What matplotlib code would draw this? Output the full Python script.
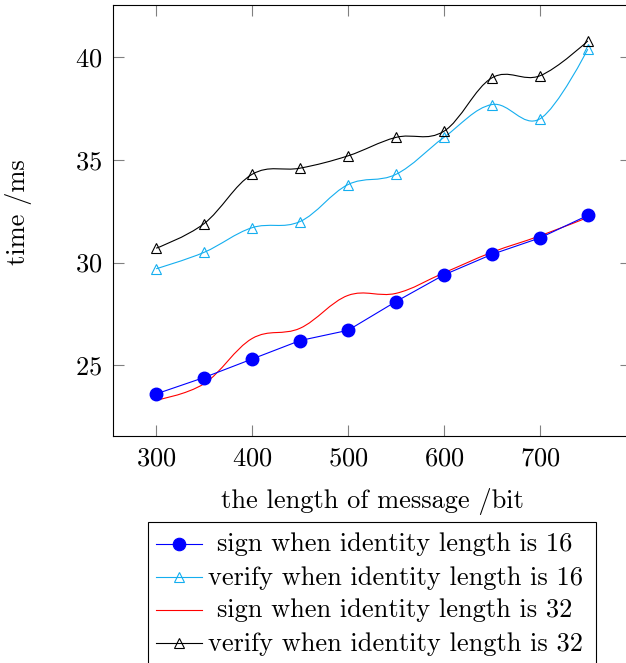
import numpy as np
import matplotlib.pyplot as plt
from matplotlib.path import Path
from matplotlib.patches import PathPatch, Rectangle
from matplotlib.lines import Line2D

plt.rcParams['font.family'] = 'cmr10'
plt.rcParams['mathtext.fontset'] = 'cm'
plt.rcParams['axes.formatter.use_mathtext'] = True

msg_len = [300, 350, 400, 450, 500, 550, 600, 650, 700, 750]
sign_16 = [23.6, 24.4, 25.3, 26.2, 26.7, 28.1, 29.4, 30.4, 31.2, 32.3]
verify_16 = [29.7, 30.5, 31.7, 32.0, 33.8, 34.3, 36.1, 37.7, 37.0, 40.4]
sign_32 = [23.3, 24.1, 26.3, 26.8, 28.4, 28.5, 29.5, 30.5, 31.3, 32.2]
verify_32 = [30.7, 31.9, 34.3, 34.6, 35.2, 36.1, 36.4, 39.0, 39.1, 40.8]

labels = ['sign when identity length is 16',
          'verify when identity length is 16',
          'sign when identity length is 32',
          'verify when identity length is 32']

CYAN = '#14AEEF'
W, H = 626, 663
FS = 19


def smooth_path(x, y, k=0.18):
    # cubic bezier through the points, like pgfplots "smooth"
    p = np.column_stack([x, y]).astype(float)
    n = len(p)
    verts = [p[0]]
    codes = [Path.MOVETO]
    for i in range(n - 1):
        c1 = p[i] if i == 0 else p[i] + k * (p[i + 1] - p[i - 1])
        c2 = p[i + 1] if i == n - 2 else p[i + 1] - k * (p[i + 2] - p[i])
        verts += [c1, c2, p[i + 1]]
        codes += [Path.CURVE4] * 3
    return Path(verts, codes)


def smooth_line(ax, x, y, color, marker=None, ms=6.5, lw=0.8):
    ax.add_patch(PathPatch(smooth_path(x, y), facecolor='none', edgecolor=color, lw=lw))
    if marker:
        ax.plot(x, y, ls='none', marker=marker, ms=ms, mfc='none', mec=color, mew=lw)


def fx(px):
    return px / W


def fy(py):
    return 1 - py / H


fig = plt.figure(figsize=(W / 100, H / 100), dpi=100)
ax = fig.add_axes([fx(113), fy(436), (631 - 113) / W, (436 - 5) / H])

ax.plot(msg_len, sign_16, color='blue', lw=0.8, marker='o', ms=9)
smooth_line(ax, msg_len, verify_16, CYAN, marker='^')
smooth_line(ax, msg_len, sign_32, 'red')
smooth_line(ax, msg_len, verify_32, 'black', marker='^')

ax.set_xlim(255, 795)
ax.set_ylim(21.55, 42.55)
ax.set_xticks([300, 400, 500, 600, 700])
ax.set_yticks([25, 30, 35, 40])
ax.tick_params(direction='in', length=7.9, width=0.8, color='#808080',
               top=True, right=True, labelsize=FS, pad=8)
for s in ax.spines.values():
    s.set_linewidth(0.8)
ax.set_xlabel('the length of message /bit', fontsize=FS, labelpad=12)
ax.set_ylabel('time /ms', fontsize=FS)
ax.yaxis.set_label_coords(-0.156, 0.52)

# legend, pgfplots style (entries centred)
fig.patches.append(Rectangle((fx(147.5), fy(666)), (596 - 147.5) / W, (666 - 521.5) / H,
                             transform=fig.transFigure, facecolor='white',
                             edgecolor='black', lw=0.8))
styles = [dict(color='blue', marker='o', ms=9, mfc='blue'),
          dict(color=CYAN, marker='^', ms=6.5, mfc='none'),
          dict(color='red'),
          dict(color='black', marker='^', ms=6.5, mfc='none')]
for i, (lab, st) in enumerate(zip(labels, styles)):
    yy = 544 + 33 * i
    fig.add_artist(Line2D([fx(156), fx(202)], [fy(yy), fy(yy)], lw=0.8,
                          color=st['color'], transform=fig.transFigure))
    if 'marker' in st:
        fig.add_artist(Line2D([fx(179)], [fy(yy)], ls='none', transform=fig.transFigure,
                              marker=st['marker'], ms=st['ms'], mfc=st['mfc'],
                              mec=st['color'], mew=0.8))
    fig.text(fx(395), fy(yy + 7.5), lab, ha='center', va='baseline', fontsize=FS)

plt.savefig('out.png', dpi=100)
